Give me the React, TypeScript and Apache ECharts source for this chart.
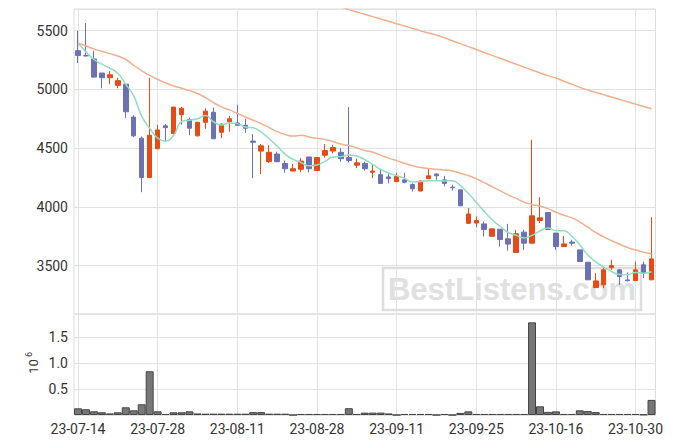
import React, { useEffect, useRef } from "react";
import * as echarts from "echarts";

const dates = [
  "23-07-14","23-07-17","23-07-18","23-07-19","23-07-20","23-07-21","23-07-24","23-07-25","23-07-26","23-07-27",
  "23-07-28","23-07-31","23-08-01","23-08-02","23-08-03","23-08-04","23-08-07","23-08-08","23-08-09","23-08-10",
  "23-08-11","23-08-14","23-08-16","23-08-17","23-08-18","23-08-21","23-08-22","23-08-23","23-08-24","23-08-25",
  "23-08-28","23-08-29","23-08-30","23-08-31","23-09-01","23-09-04","23-09-05","23-09-06","23-09-07","23-09-08",
  "23-09-11","23-09-12","23-09-13","23-09-14","23-09-15","23-09-18","23-09-19","23-09-20","23-09-21","23-09-22",
  "23-09-25","23-09-26","23-09-27","23-10-04","23-10-05","23-10-06","23-10-10","23-10-11","23-10-12","23-10-13",
  "23-10-16","23-10-17","23-10-18","23-10-19","23-10-20","23-10-23","23-10-24","23-10-25","23-10-26","23-10-27",
  "23-10-30","23-10-31","23-11-01",
];

const opens = [
  5330,5290,5260,5140,5100,5035,5045,4765,4585,4250,
  4495,4690,4625,4785,4745,4605,4720,4805,4635,4725,
  4715,4695,4560,4475,4385,4450,4370,4305,4320,4425,
  4310,4440,4475,4465,4420,4355,4370,4295,4275,4255,
  4215,4230,4190,4135,4240,4280,4230,4168,4145,3860,
  3862,3855,3750,3810,3728,3611,3785,3691,3884,3952,
  3777,3662,3700,3634,3529,3313,3336,3483,3464,3378,
  3373,3507,3379,
];
const closes = [
  5290,5285,5105,5100,5125,5075,4810,4605,4250,4610,
  4655,4675,4850,4840,4670,4720,4815,4580,4705,4750,
  4695,4670,4550,4520,4465,4385,4325,4325,4390,4325,
  4420,4480,4505,4410,4395,4375,4325,4305,4200,4240,
  4260,4210,4155,4220,4265,4265,4200,4163,4010,3940,
  3884,3808,3813,3722,3683,3771,3691,3924,3907,3807,
  3662,3685,3691,3535,3379,3370,3464,3500,3407,3372,
  3464,3436,3557,
];
const lows = [
  5225,5280,5100,5010,5045,5010,4755,4595,4125,4250,
  4490,4560,4620,4700,4610,4600,4665,4580,4585,4640,
  4695,4630,4245,4280,4375,4380,4290,4305,4295,4295,
  4305,4420,4455,4385,4380,4330,4310,4245,4200,4200,
  4215,4200,4130,4133,4240,4230,4175,4140,4005,3858,
  3827,3748,3748,3662,3628,3611,3634,3691,3862,3805,
  3634,3662,3668,3530,3379,3313,3308,3464,3336,3365,
  3370,3393,3379,
];
const highs = [
  5500,5565,5330,5140,5155,5100,5055,4780,4600,5100,
  4700,4705,4850,4850,4760,4725,4840,4845,4710,4775,
  4870,4750,4620,4535,4525,4470,4395,4365,4415,4425,
  4420,4535,4530,4500,4850,4410,4385,4365,4315,4280,
  4290,4290,4200,4222,4325,4282,4265,4188,4145,3990,
  3918,3875,3813,3810,3856,3805,3805,4571,4083,3955,
  3777,3753,3720,3634,3529,3436,3490,3549,3466,3441,
  3535,3535,3913,
];

const ma5 = [
  5395,5320,5255,5215,5181,5138,5043,4943,4773,4670,
  4586,4559,4608,4726,4738,4751,4779,4725,4698,4714,
  4709,4680,4674,4637,4580,4518,4449,4404,4378,4350,
  4357,4388,4424,4428,4442,4433,4402,4362,4320,4289,
  4266,4243,4213,4217,4222,4223,4221,4223,4181,4116,
  4039,3961,3891,3833,3782,3759,3736,3758,3795,3820,
  3798,3797,3750,3676,3590,3532,3488,3450,3424,3423,
  3441,3436,3447,
];
const ma20 = [
  5395,5370,5345,5325,5305,5285,5255,5205,5160,5120,
  5085,5055,5030,5010,4990,4965,4930,4888,4852,4826,
  4796,4765,4738,4709,4676,4641,4617,4603,4610,4596,
  4584,4574,4557,4535,4522,4504,4480,4466,4441,4415,
  4394,4371,4351,4336,4326,4320,4314,4305,4286,4267,
  4240,4207,4172,4138,4102,4072,4040,4021,4007,3985,
  3955,3929,3906,3871,3827,3782,3745,3712,3682,3654,
  3633,3614,3601,
];
const maLong: (number | string)[] = [
  "-","-","-","-","-","-","-","-","-","-",
  "-","-","-","-","-","-","-","-","-","-",
  "-","-","-","-","-","-","-","-","-","-",
  5770,5750,5728,5705,5680,5660,5640,5620,5600,5580,
  5560,5540,5520,5500,5480,5462,5440,5415,5390,5365,
  5340,5315,5290,5265,5240,5215,5190,5165,5140,5118,
  5097,5070,5045,5018,4995,4975,4955,4935,4915,4895,
  4875,4855,4835,
];

// volume in millions of shares
const volumes = [
  0.128,0.11,0.071,0.052,0.03,0.052,0.148,0.09,0.206,0.84,
  0.071,0.02,0.052,0.052,0.071,0.03,0.025,0.025,0.025,0.025,
  0.025,0.025,0.055,0.055,0.025,0.025,0.025,0,0.02,0.02,
  0.02,0.02,0.02,0.02,0.13,0.02,0.045,0.045,0.045,0.03,
  0,0.02,0.02,0.02,0.02,0,0.02,0,0.04,0.07,
  0.02,0.02,0.02,0.02,0.02,0.02,0.02,1.78,0.167,0.06,
  0.07,0.02,0.02,0.09,0.075,0.055,0.02,0.02,0.02,0.02,
  0.02,0.01,0.29,
];

const UP = "#e84a14";
const DOWN = "#6c70b5";
const GRIDC = "#e2e2e2";
const FONT = "Roboto";

export default function App() {
  const ref = useRef<HTMLDivElement>(null);
  useEffect(() => {
    if (!ref.current) return;
    const chart = echarts.init(ref.current, undefined, { renderer: "svg" });
    const candles = dates.map((_, i) => [opens[i], closes[i], lows[i], highs[i]]);
    const xCommon = {
      type: "category",
      data: dates,
      boundaryGap: true,
      axisLine: { show: false },
      axisTick: { show: false },
      splitLine: { show: true, interval: 9, alignWithLabel: true, lineStyle: { color: GRIDC, width: 1 } },
    };
    chart.setOption({
      animation: false,
      textStyle: { fontFamily: FONT },
      grid: [
        { left: 74, top: 9, width: 581.5, height: 305, show: true, borderColor: "#dcdcdc", borderWidth: 1, backgroundColor: "transparent" },
        { left: 74, top: 314, width: 581.5, height: 101, show: true, borderColor: "#dcdcdc", borderWidth: 1, backgroundColor: "transparent" },
      ],
      xAxis: [
        { ...xCommon, gridIndex: 0, axisLabel: { show: false, interval: 9 } },
        {
          ...xCommon,
          gridIndex: 1,
          axisLabel: { show: true, interval: 9, fontSize: 14, color: "#333", margin: 7, fontFamily: FONT },
        },
      ],
      yAxis: [
        {
          type: "value",
          gridIndex: 0,
          min: 3088,
          max: 5685,
          splitNumber: 5,
          axisLine: { show: false },
          axisTick: { show: false },
          axisLabel: {
            fontSize: 14,
            color: "#333",
            margin: 6,
            showMinLabel: false,
            showMaxLabel: false,
            fontFamily: FONT,
            formatter: (v: number) => String(Math.round(v)),
          },
          splitLine: { lineStyle: { color: GRIDC } },
        },
        {
          type: "value",
          gridIndex: 1,
          min: 0,
          max: 1.94,
          interval: 0.5,
          axisLine: { show: false },
          axisTick: { show: false },
          axisLabel: {
            fontSize: 14,
            color: "#333",
            margin: 6,
            showMinLabel: false,
            showMaxLabel: false,
            fontFamily: FONT,
            formatter: (v: number) => v.toFixed(1),
          },
          splitLine: { lineStyle: { color: GRIDC } },
        },
      ],
      series: [
        {
          type: "candlestick",
          xAxisIndex: 0,
          yAxisIndex: 0,
          data: candles,
          barWidth: 5,
          itemStyle: { color: UP, color0: DOWN, borderColor: UP, borderColor0: DOWN, borderWidth: 1 },
          z: 3,
        },
        {
          type: "line",
          xAxisIndex: 0,
          yAxisIndex: 0,
          data: ma5,
          smooth: true,
          showSymbol: false,
          lineStyle: { color: "#92dcc0", width: 1.5 },
          z: 4,
        },
        {
          type: "line",
          xAxisIndex: 0,
          yAxisIndex: 0,
          data: ma20,
          smooth: true,
          showSymbol: false,
          lineStyle: { color: "#f0b08f", width: 1.5 },
          z: 4,
        },
        {
          type: "line",
          xAxisIndex: 0,
          yAxisIndex: 0,
          data: maLong,
          smooth: true,
          showSymbol: false,
          lineStyle: { color: "#f0b08f", width: 1.5 },
          z: 4,
        },
        {
          type: "bar",
          xAxisIndex: 1,
          yAxisIndex: 1,
          data: volumes,
          barCategoryGap: "0%",
          itemStyle: { color: "#777777", borderColor: "#444444", borderWidth: 1 },
          z: 3,
        },
      ],
      graphic: [
        {
          type: "rect",
          z: 1,
          shape: { x: 383, y: 268, width: 258, height: 42 },
          style: { fill: "none", stroke: "#dedede", lineWidth: 2.5 },
        },
        {
          type: "text",
          z: 1,
          x: 512,
          y: 289,
          style: {
            text: "BestListens.com",
            fontSize: 31,
            fontWeight: "bold",
            fontFamily: "Liberation Sans",
            fill: "#e0e0e0",
            textAlign: "center",
            textVerticalAlign: "middle",
          },
        },
        {
          type: "group",
          x: 33,
          y: 366.5,
          rotation: Math.PI / 2,
          children: [
            {
              type: "text",
              x: 0,
              y: 0,
              style: { text: "10", fontSize: 13, fontFamily: FONT, fill: "#333", textAlign: "center", textVerticalAlign: "middle" },
            },
            {
              type: "text",
              x: 12,
              y: -4,
              style: { text: "6", fontSize: 9, fontFamily: FONT, fill: "#333", textAlign: "center", textVerticalAlign: "middle" },
            },
          ],
        },
      ],
    });
    return () => chart.dispose();
  }, []);
  return (
    <div
      ref={ref}
      style={{ position: "absolute", left: 0, top: 0, width: 674, height: 444, background: "#fff" }}
    />
  );
}
